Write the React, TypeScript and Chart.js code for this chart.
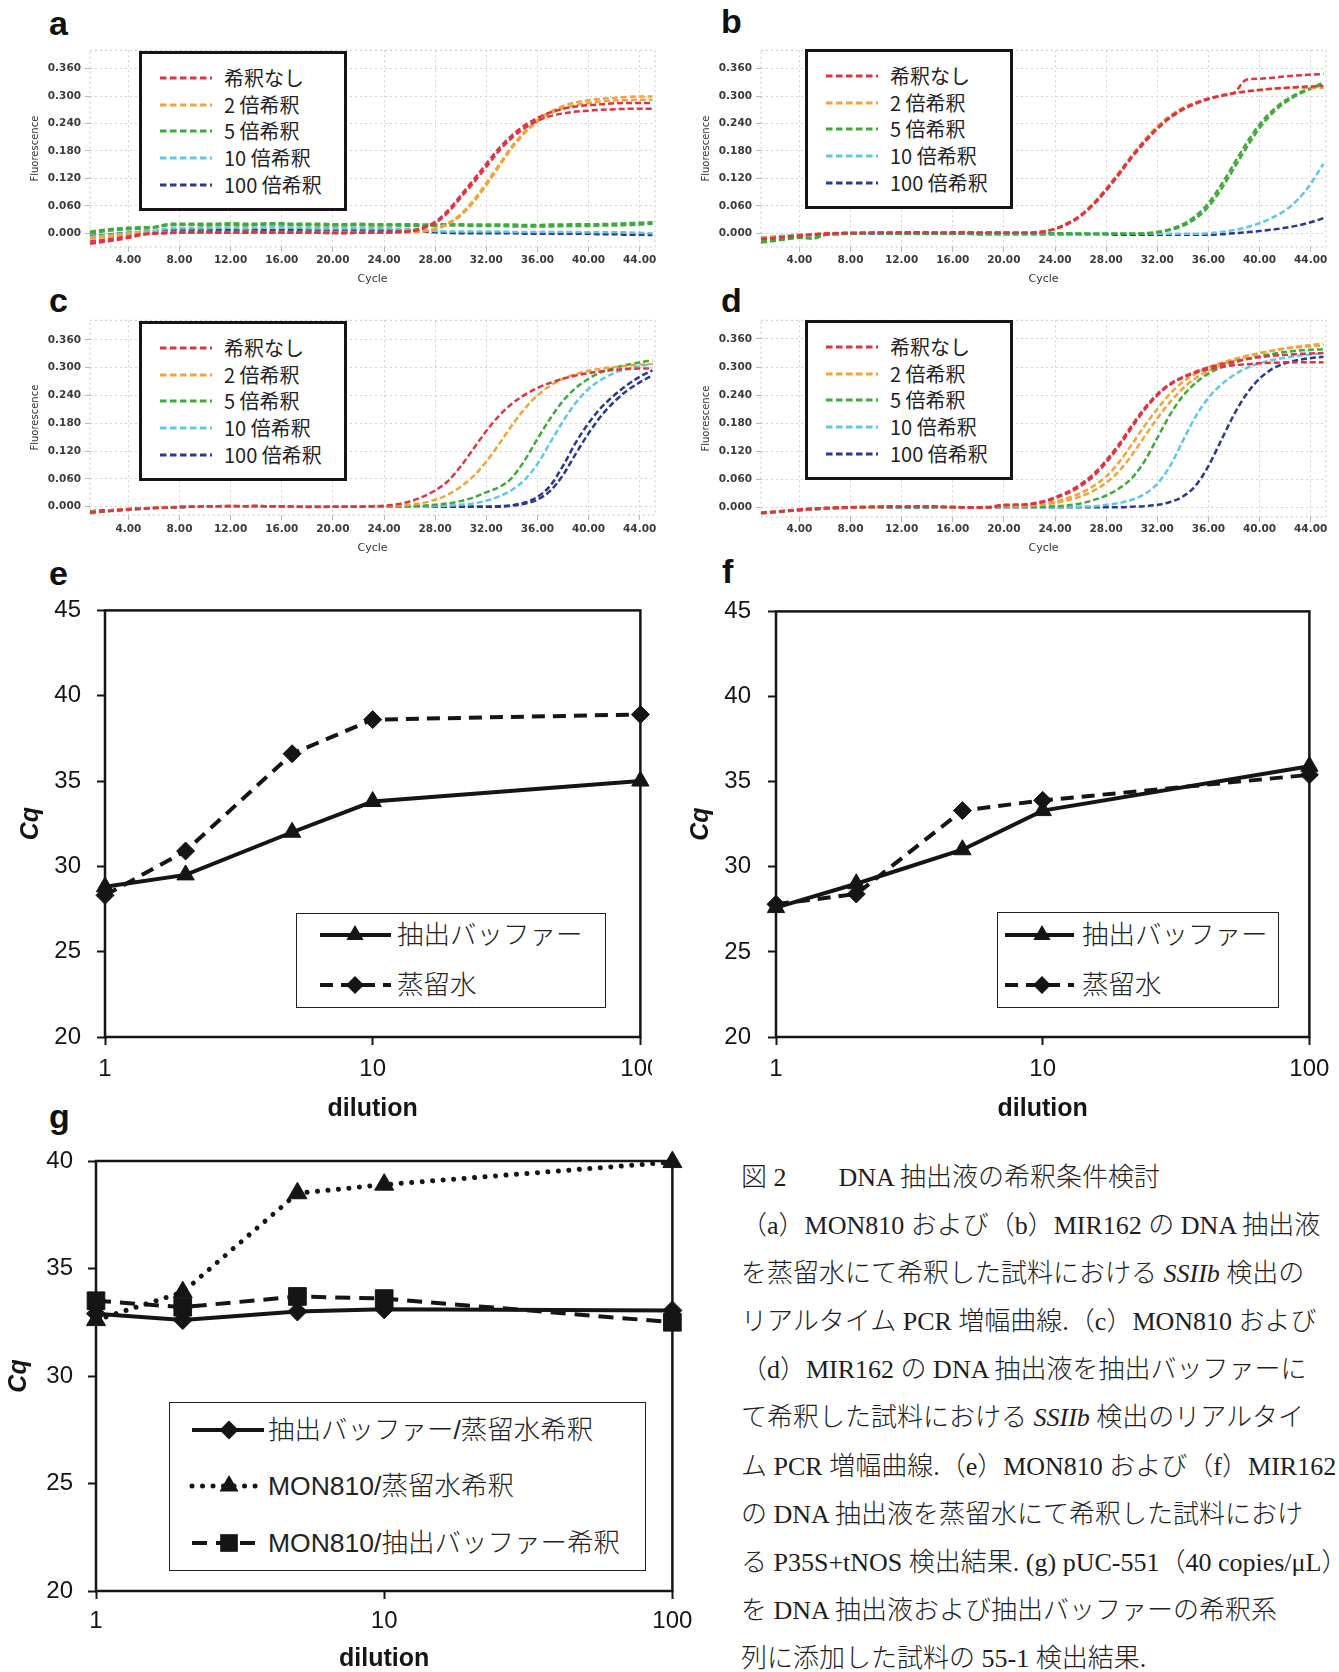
import React, { useEffect, useRef } from "react";
import { Chart, registerables } from "chart.js";

Chart.register(...registerables);

// ================= DATA =================
const CYCLES = [
  1, 2, 3, 4, 5, 6, 7, 8, 9, 10, 11, 12, 13, 14, 15, 16, 17, 18, 19, 20, 21, 22, 23,
  24, 25, 26, 27, 28, 29, 30, 31, 32, 33, 34, 35, 36, 37, 38, 39, 40, 41, 42, 43, 44, 45,
];
const AMP_X_TICKS = [4, 8, 12, 16, 20, 24, 28, 32, 36, 40, 44];
const AMP_Y_TICKS = [0, 0.06, 0.12, 0.18, 0.24, 0.3, 0.36];
const DILUTION_NAMES = ["希釈なし", "2 倍希釈", "5 倍希釈", "10 倍希釈", "100 倍希釈"];
const DILUTION_COLORS = ["#dc3545", "#f2a33a", "#3faa3a", "#62c7e2", "#2b388f"];

// panel a (MON810, distilled water)
const A_RED_1 = [
  -0.023, -0.019, -0.015, -0.01, -0.004, -0.001, 0.0, 0.001, 0.001, 0.002,
  0.001, 0.001, 0.002, 0.002, 0.001, 0.001, 0.002, 0.001, 0.001, 0.0,
  0.0, 0.001, 0.001, 0.001, 0.002, 0.004, 0.01, 0.022, 0.045, 0.078,
  0.11, 0.145, 0.18, 0.208, 0.23, 0.246, 0.256, 0.262, 0.266, 0.268,
  0.27, 0.271, 0.272, 0.272, 0.272,
];
const A_RED_2 = [
  -0.018, -0.015, -0.011, -0.007, -0.002, 0.0, 0.001, 0.001, 0.002, 0.002,
  0.002, 0.001, 0.001, 0.002, 0.002, 0.001, 0.001, 0.002, 0.001, 0.001,
  0.001, 0.001, 0.002, 0.002, 0.003, 0.005, 0.012, 0.025, 0.05, 0.083,
  0.117, 0.152, 0.186, 0.214, 0.236, 0.252, 0.264, 0.272, 0.277, 0.28,
  0.282, 0.284, 0.285, 0.285, 0.285,
];
const A_ORANGE_1 = [
  -0.012, -0.009, -0.006, -0.003, 0.0, 0.001, 0.002, 0.002, 0.002, 0.003,
  0.002, 0.002, 0.003, 0.003, 0.002, 0.002, 0.002, 0.003, 0.002, 0.002,
  0.002, 0.002, 0.002, 0.002, 0.002, 0.002, 0.004, 0.01, 0.022, 0.042,
  0.072, 0.11, 0.15, 0.19, 0.222, 0.247, 0.265, 0.278, 0.286, 0.291,
  0.294, 0.296, 0.298, 0.299, 0.299,
];
const A_ORANGE_2 = [
  -0.01, -0.007, -0.004, -0.001, 0.001, 0.002, 0.003, 0.003, 0.003, 0.003,
  0.003, 0.003, 0.003, 0.003, 0.003, 0.003, 0.003, 0.003, 0.003, 0.003,
  0.003, 0.003, 0.003, 0.003, 0.003, 0.003, 0.004, 0.009, 0.02, 0.039,
  0.068, 0.105, 0.146, 0.186, 0.219, 0.244, 0.262, 0.273, 0.28, 0.285,
  0.288, 0.29, 0.291, 0.292, 0.292,
];
const A_GREEN_1 = [
  0.0, 0.004, 0.007, 0.009, 0.01, 0.012, 0.017, 0.018, 0.018, 0.017,
  0.018, 0.018, 0.017, 0.018, 0.019, 0.019, 0.018, 0.018, 0.017, 0.017,
  0.017, 0.018, 0.017, 0.017, 0.017, 0.016, 0.016, 0.016, 0.017, 0.017,
  0.016, 0.016, 0.016, 0.015, 0.015, 0.015, 0.015, 0.016, 0.016, 0.016,
  0.017, 0.017, 0.018, 0.019, 0.021,
];
const A_GREEN_2 = [
  0.004, 0.007, 0.01, 0.012, 0.013, 0.014, 0.02, 0.021, 0.021, 0.021,
  0.021, 0.022, 0.021, 0.021, 0.022, 0.022, 0.021, 0.021, 0.021, 0.02,
  0.02, 0.021, 0.02, 0.02, 0.02, 0.02, 0.019, 0.019, 0.02, 0.02,
  0.019, 0.019, 0.019, 0.019, 0.018, 0.018, 0.019, 0.019, 0.02, 0.02,
  0.02, 0.021, 0.022, 0.023, 0.024,
];
const A_CYAN = [
  -0.008, -0.005, -0.002, 0.001, 0.003, 0.005, 0.01, 0.011, 0.011, 0.011,
  0.012, 0.012, 0.011, 0.012, 0.013, 0.013, 0.012, 0.012, 0.011, 0.011,
  0.011, 0.012, 0.011, 0.011, 0.01, 0.009, 0.007, 0.005, 0.004, 0.004,
  0.004, 0.004, 0.004, 0.003, 0.003, 0.003, 0.003, 0.003, 0.003, 0.002,
  0.002, 0.002, 0.002, 0.001, 0.0,
];
const A_BLUE = [
  -0.006, -0.004, -0.001, 0.001, 0.003, 0.004, 0.006, 0.007, 0.007, 0.007,
  0.007, 0.007, 0.006, 0.007, 0.007, 0.007, 0.007, 0.006, 0.006, 0.006,
  0.006, 0.006, 0.006, 0.006, 0.006, 0.006, 0.004, 0.002, 0.001, 0.0,
  0.0, 0.0, 0.0, 0.0, -0.001, -0.001, -0.001, -0.001, -0.001, -0.001,
  -0.002, -0.002, -0.003, -0.003, -0.004,
];

// panel b (MIR162, distilled water)
const B_RED_1 = [
  -0.012, -0.01, -0.007, -0.005, -0.003, -0.001, 0.0, 0.001, 0.001, 0.001,
  0.001, 0.002, 0.002, 0.001, 0.001, 0.002, 0.002, 0.001, 0.001, 0.001,
  0.001, 0.001, 0.003, 0.009, 0.02, 0.037, 0.062, 0.093, 0.128, 0.165,
  0.198, 0.228, 0.252, 0.27, 0.283, 0.293, 0.3, 0.306, 0.31, 0.313,
  0.316, 0.318, 0.32, 0.321, 0.322,
];
const B_RED_2 = [
  -0.013, -0.011, -0.008, -0.006, -0.003, -0.001, 0.0, 0.0, 0.001, 0.001,
  0.001, 0.001, 0.002, 0.002, 0.001, 0.001, 0.002, 0.001, 0.001, 0.001,
  0.001, 0.001, 0.004, 0.01, 0.022, 0.039, 0.064, 0.096, 0.131, 0.168,
  0.201, 0.23, 0.254, 0.272, 0.285, 0.294, 0.301, 0.307, 0.336, 0.338,
  0.34, 0.343, 0.345, 0.347, 0.348,
];
const B_ORANGE = [
  -0.01, -0.008, -0.006, -0.004, -0.002, 0.0, 0.001, 0.001, 0.001, 0.002,
  0.002, 0.002, 0.002, 0.002, 0.002, 0.002, 0.003, 0.002, 0.002, 0.002,
  0.001, 0.001, 0.003, 0.01, 0.022, 0.04, 0.066, 0.098, 0.133, 0.17,
  0.204, 0.234, 0.257, 0.274, 0.286, 0.295, 0.302, 0.307, 0.311, 0.314,
  0.316, 0.317, 0.318, 0.318, 0.318,
];
const B_GREEN_1 = [
  -0.02, -0.017, -0.013, -0.01, -0.012, -0.004, -0.001, 0.0, 0.0, 0.0,
  0.0, 0.0, 0.0, 0.0, 0.0, 0.0, 0.0, 0.0, 0.0, 0.0,
  0.0, 0.0, 0.0, 0.0, -0.001, -0.001, -0.001, -0.001, -0.001, -0.001,
  0.0, 0.003, 0.009, 0.02, 0.038, 0.066, 0.106, 0.152, 0.198, 0.238,
  0.268, 0.29, 0.306, 0.317, 0.325,
];
const B_GREEN_2 = [
  -0.018, -0.015, -0.012, -0.009, -0.01, -0.003, 0.0, 0.0, 0.0, 0.001,
  0.0, 0.0, 0.001, 0.0, 0.0, 0.0, 0.0, 0.0, 0.0, 0.0,
  0.0, 0.0, 0.0, 0.0, 0.0, -0.001, -0.001, -0.001, -0.001, -0.001,
  -0.001, 0.002, 0.007, 0.016, 0.032, 0.058, 0.096, 0.142, 0.188, 0.23,
  0.262, 0.286, 0.303, 0.316, 0.33,
];
const B_CYAN = [
  -0.01, -0.007, -0.005, -0.003, -0.002, -0.001, -0.001, 0.0, 0.0, 0.0,
  0.0, 0.0, 0.0, 0.0, 0.0, 0.0, 0.0, 0.0, -0.001, -0.001,
  -0.001, -0.001, -0.001, -0.001, -0.001, -0.001, -0.001, -0.001, -0.001, -0.001,
  -0.001, -0.001, -0.001, -0.001, -0.001, 0.0, 0.003, 0.007, 0.013, 0.022,
  0.034, 0.05, 0.074, 0.108, 0.152,
];
const B_BLUE = [
  -0.01, -0.008, -0.006, -0.004, -0.003, -0.002, -0.002, -0.001, -0.001, -0.001,
  -0.001, -0.001, -0.001, -0.001, -0.001, -0.001, -0.001, -0.002, -0.002, -0.002,
  -0.002, -0.002, -0.002, -0.002, -0.002, -0.002, -0.002, -0.002, -0.003, -0.003,
  -0.003, -0.003, -0.003, -0.003, -0.003, -0.003, -0.002, 0.0, 0.002, 0.005,
  0.008, 0.012, 0.017, 0.024, 0.033,
];

// panel c (MON810, extraction buffer)
const C_RED = [
  -0.012, -0.01, -0.008, -0.006, -0.004, -0.003, -0.002, -0.001, 0.0, 0.001,
  0.001, 0.002, 0.001, 0.002, 0.001, 0.001, 0.0, -0.001, -0.001, 0.0,
  0.0, 0.0, 0.001, 0.002, 0.005, 0.011, 0.021, 0.035, 0.055, 0.087,
  0.125, 0.163, 0.196, 0.222, 0.241, 0.256, 0.267, 0.276, 0.283, 0.288,
  0.292, 0.295, 0.297, 0.298, 0.299,
];
const C_ORANGE = [
  -0.011, -0.009, -0.007, -0.005, -0.004, -0.002, -0.001, 0.0, 0.0, 0.001,
  0.001, 0.001, 0.001, 0.001, 0.001, 0.001, 0.0, 0.0, 0.0, 0.0,
  0.0, 0.0, 0.001, 0.001, 0.002, 0.004, 0.008, 0.015, 0.026, 0.043,
  0.066, 0.097, 0.135, 0.175, 0.211, 0.24, 0.261, 0.276, 0.286, 0.293,
  0.298, 0.301, 0.304, 0.306, 0.308,
];
const C_GREEN = [
  -0.014, -0.011, -0.009, -0.007, -0.005, -0.003, -0.002, -0.001, 0.0, 0.0,
  0.001, 0.001, 0.001, 0.0, 0.0, 0.0, 0.0, 0.0, 0.0, 0.0,
  0.0, 0.0, 0.0, 0.0, 0.0, 0.001, 0.002, 0.004, 0.007, 0.012,
  0.02, 0.031, 0.042, 0.062, 0.1, 0.146, 0.19, 0.228, 0.256, 0.276,
  0.29, 0.299, 0.306, 0.311, 0.316,
];
const C_CYAN = [
  -0.012, -0.01, -0.008, -0.006, -0.004, -0.003, -0.002, -0.001, 0.0, 0.0,
  0.0, 0.001, 0.0, 0.0, 0.0, 0.0, 0.0, 0.0, 0.0, 0.0,
  0.0, 0.0, 0.0, 0.0, 0.0, 0.0, 0.0, 0.001, 0.002, 0.004,
  0.007, 0.013, 0.022, 0.036, 0.058, 0.092, 0.138, 0.184, 0.224, 0.254,
  0.274, 0.288, 0.297, 0.303, 0.308,
];
const C_BLUE_1 = [
  -0.01, -0.008, -0.007, -0.005, -0.004, -0.003, -0.002, -0.001, 0.0, 0.0,
  0.0, 0.0, 0.0, 0.0, 0.0, 0.0, 0.0, 0.0, 0.0, 0.0,
  0.0, 0.0, 0.0, 0.0, 0.0, 0.0, 0.0, 0.0, 0.0, 0.0,
  0.0, 0.0, 0.001, 0.003, 0.009, 0.021, 0.045, 0.088, 0.138, 0.18,
  0.214, 0.24, 0.262, 0.28, 0.294,
];
const C_BLUE_2 = [
  -0.011, -0.009, -0.007, -0.006, -0.004, -0.003, -0.002, -0.001, 0.0, 0.0,
  0.0, 0.0, 0.0, 0.0, 0.0, 0.0, 0.0, 0.0, 0.0, 0.0,
  0.0, 0.0, 0.0, 0.0, 0.0, 0.0, 0.0, 0.0, 0.0, 0.0,
  0.0, 0.0, 0.0, 0.002, 0.006, 0.015, 0.034, 0.068, 0.114, 0.158,
  0.196, 0.226, 0.25, 0.268, 0.283,
];

// panel d (MIR162, extraction buffer)
const D_RED_1 = [
  -0.012, -0.01, -0.008, -0.005, -0.003, -0.002, -0.001, 0.0, 0.001, 0.001,
  0.002, 0.001, 0.001, 0.002, 0.001, 0.0, 0.0, -0.001, 0.0, 0.004,
  0.005, 0.006, 0.011, 0.019, 0.03, 0.045, 0.066, 0.095, 0.13, 0.17,
  0.208, 0.239, 0.262, 0.277, 0.288, 0.295, 0.3, 0.304, 0.306, 0.308,
  0.309, 0.31, 0.31, 0.31, 0.31,
];
const D_RED_2 = [
  -0.013, -0.011, -0.008, -0.006, -0.004, -0.002, -0.001, 0.0, 0.0, 0.001,
  0.001, 0.001, 0.002, 0.001, 0.001, 0.001, 0.0, 0.0, 0.001, 0.005,
  0.005, 0.007, 0.012, 0.021, 0.033, 0.049, 0.071, 0.1, 0.135, 0.175,
  0.212, 0.242, 0.264, 0.279, 0.29, 0.299, 0.306, 0.312, 0.317, 0.321,
  0.324, 0.326, 0.328, 0.329, 0.33,
];
const D_ORANGE_1 = [
  -0.011, -0.009, -0.007, -0.005, -0.003, -0.002, -0.001, 0.0, 0.0, 0.001,
  0.001, 0.001, 0.001, 0.001, 0.001, 0.0, 0.0, 0.0, 0.0, 0.003,
  0.003, 0.004, 0.007, 0.012, 0.02, 0.03, 0.045, 0.066, 0.096, 0.134,
  0.174, 0.21, 0.243, 0.268, 0.286, 0.299, 0.309, 0.317, 0.324, 0.33,
  0.335, 0.339, 0.342, 0.344, 0.346,
];
const D_ORANGE_2 = [
  -0.012, -0.01, -0.008, -0.006, -0.004, -0.002, -0.001, 0.0, 0.0, 0.0,
  0.001, 0.001, 0.001, 0.001, 0.0, 0.0, 0.0, 0.0, 0.0, 0.002,
  0.002, 0.003, 0.005, 0.009, 0.015, 0.023, 0.035, 0.052, 0.077, 0.111,
  0.151, 0.19, 0.225, 0.254, 0.276, 0.292, 0.304, 0.314, 0.322, 0.329,
  0.335, 0.34, 0.344, 0.347, 0.35,
];
const D_GREEN = [
  -0.013, -0.011, -0.009, -0.007, -0.005, -0.003, -0.002, -0.001, 0.0, 0.0,
  0.0, 0.0, 0.0, 0.0, 0.0, 0.0, 0.0, 0.0, 0.0, 0.001,
  0.001, 0.001, 0.001, 0.002, 0.004, 0.008, 0.015, 0.025, 0.04, 0.062,
  0.098, 0.148, 0.198, 0.238, 0.266, 0.286, 0.299, 0.309, 0.317, 0.323,
  0.328, 0.332, 0.335, 0.337, 0.338,
];
const D_CYAN = [
  -0.012, -0.01, -0.008, -0.006, -0.004, -0.003, -0.002, -0.001, 0.0, 0.0,
  0.0, 0.0, 0.0, 0.0, 0.0, 0.0, 0.0, 0.0, 0.0, 0.0,
  0.0, 0.0, 0.0, 0.0, 0.0, 0.001, 0.002, 0.005, 0.009, 0.016,
  0.028, 0.05, 0.088, 0.142, 0.194, 0.234, 0.262, 0.283, 0.298, 0.308,
  0.315, 0.32, 0.324, 0.327, 0.329,
];
const D_BLUE = [
  -0.012, -0.01, -0.008, -0.006, -0.005, -0.003, -0.002, -0.001, 0.0, 0.0,
  0.0, 0.0, 0.0, 0.0, 0.0, 0.0, 0.0, 0.0, 0.0, 0.0,
  0.0, 0.0, 0.0, 0.0, 0.0, 0.0, 0.0, 0.0, 0.0, 0.001,
  0.002, 0.005, 0.011, 0.023, 0.046, 0.088, 0.143, 0.198, 0.243, 0.275,
  0.296, 0.308, 0.315, 0.319, 0.322,
];

// Cq panels
const DILUTIONS = [1, 2, 5, 10, 100];
const CQ_X_TICKS = [1, 10, 100];
const CQ_Y_TICKS_EF = [20, 25, 30, 35, 40, 45];
const CQ_Y_TICKS_G = [20, 25, 30, 35, 40];
const E_BUFFER = [28.8, 29.5, 32.0, 33.8, 35.0];
const E_WATER = [28.3, 30.9, 36.6, 38.6, 38.9];
const F_BUFFER = [27.6, 29.0, 31.0, 33.3, 35.9];
const F_WATER = [27.8, 28.4, 33.3, 33.9, 35.4];
const G_BUFFER_WATER = [32.9, 32.6, 33.0, 33.1, 33.05];
const G_MON_WATER = [32.6, 33.9, 38.5, 38.9, 39.95];
const G_MON_BUFFER = [33.5, 33.2, 33.7, 33.6, 32.5];
const LEGEND_EF = ["抽出バッファー", "蒸留水"];
const LEGEND_G = ["抽出バッファー/蒸留水希釈", "MON810/蒸留水希釈", "MON810/抽出バッファー希釈"];

// ================= HELPERS =================
const INK = "#151515";

const PANEL_A = [
  { dil: 0, values: A_RED_1 }, { dil: 0, values: A_RED_2 },
  { dil: 1, values: A_ORANGE_1 }, { dil: 1, values: A_ORANGE_2 },
  { dil: 2, values: A_GREEN_1 }, { dil: 2, values: A_GREEN_2 },
  { dil: 3, values: A_CYAN }, { dil: 4, values: A_BLUE },
];
const PANEL_B = [
  { dil: 0, values: B_RED_1 }, { dil: 0, values: B_RED_2 },
  { dil: 1, values: B_ORANGE },
  { dil: 2, values: B_GREEN_1 }, { dil: 2, values: B_GREEN_2 },
  { dil: 3, values: B_CYAN }, { dil: 4, values: B_BLUE },
];
const PANEL_C = [
  { dil: 0, values: C_RED }, { dil: 1, values: C_ORANGE },
  { dil: 2, values: C_GREEN }, { dil: 3, values: C_CYAN },
  { dil: 4, values: C_BLUE_1 }, { dil: 4, values: C_BLUE_2 },
];
const PANEL_D = [
  { dil: 0, values: D_RED_1 }, { dil: 0, values: D_RED_2 },
  { dil: 1, values: D_ORANGE_1 }, { dil: 1, values: D_ORANGE_2 },
  { dil: 2, values: D_GREEN }, { dil: 3, values: D_CYAN }, { dil: 4, values: D_BLUE },
];

function framePlugin(color: string, width: number, dash: number[]) {
  return {
    id: "frame",
    beforeDatasetsDraw(chart: any) {
      const { ctx, chartArea } = chart;
      ctx.save();
      ctx.strokeStyle = color;
      ctx.lineWidth = width;
      ctx.setLineDash(dash);
      ctx.strokeRect(chartArea.left, chartArea.top, chartArea.right - chartArea.left, chartArea.bottom - chartArea.top);
      ctx.restore();
    },
  };
}

function AmpChart(p: any) {
  const ref = useRef<HTMLCanvasElement>(null);
  useEffect(() => {
    const font = { family: '"DejaVu Sans", Verdana, sans-serif', size: 10.5, weight: "bold" };
    const titleFont = { family: '"DejaVu Sans", Verdana, sans-serif', size: 11 };
    const grid = { color: "#d2d2d2", lineWidth: 1, drawTicks: true, tickLength: 5, tickColor: "#b8b8b8" };
    const border = { display: false, dash: [2, 3] };
    const chart = new Chart(ref.current as any, {
      type: "line",
      data: {
        datasets: p.curves.map((c: any) => ({
          data: CYCLES.map((cy, i) => ({ x: cy, y: c.values[i] })),
          borderColor: DILUTION_COLORS[c.dil],
          borderWidth: 2.5,
          borderDash: [6, 3],
          pointRadius: 0,
          fill: false,
          cubicInterpolationMode: "monotone",
        })),
      },
      options: {
        responsive: false,
        animation: false,
        events: [],
        layout: { autoPadding: false, padding: { left: 0, top: p.padT, right: p.padR, bottom: 0 } },
        plugins: { legend: { display: false }, tooltip: { enabled: false } },
        scales: {
          x: {
            type: "linear",
            min: 1,
            max: 45.2,
            afterBuildTicks: (s: any) => { s.ticks = AMP_X_TICKS.map((v) => ({ value: v })); },
            afterFit: (s: any) => { s.height = p.xH; },
            ticks: { font, color: "#3a3a3a", padding: p.xTickPad - 5, maxRotation: 0, autoSkip: false, callback: (v: any) => Number(v).toFixed(2) },
            grid,
            border,
            title: { display: true, text: "Cycle", font: titleFont, color: "#333", padding: { top: 0, bottom: p.xTitlePad } },
          },
          y: {
            type: "linear",
            min: p.yMin,
            max: p.yMax,
            afterBuildTicks: (s: any) => { s.ticks = AMP_Y_TICKS.map((v) => ({ value: v })); },
            afterFit: (s: any) => { s.width = p.yW; },
            ticks: { font, color: "#3a3a3a", padding: 4, callback: (v: any) => Number(v).toFixed(3) },
            grid,
            border,
            title: { display: true, text: "Fluorescence", font: { ...titleFont, size: 10 }, color: "#333", padding: { top: p.yTitlePad, bottom: 0 } },
          },
        },
      },
      plugins: [framePlugin("#c4c4c4", 1, [2, 3])],
    } as any);
    return () => chart.destroy();
  }, []);
  return (
    <canvas ref={ref} width={p.w} height={p.h}
      style={{ position: "absolute", left: p.x, top: p.y, width: p.w, height: p.h }} />
  );
}

function AmpLegend({ x, y }: any) {
  return (
    <div style={{ position: "absolute", left: x, top: y, width: 208, height: 160, boxSizing: "border-box", border: "3px solid #151515", background: "#fff" }}>
      {DILUTION_NAMES.map((name, i) => (
        <div key={i} style={{ position: "absolute", left: 18, top: 24 + i * 26.7 - 13, height: 26, display: "flex", alignItems: "center", whiteSpace: "nowrap" }}>
          <svg width={52} height={6} style={{ display: "block" }}>
            <line x1={0} y1={3} x2={52} y2={3} stroke={DILUTION_COLORS[i]} strokeWidth={3} strokeDasharray="6.5 3.5" />
          </svg>
          <span style={{ marginLeft: 12, fontFamily: '"Noto Sans CJK JP", sans-serif', fontSize: 20, lineHeight: "26px", color: "#222" }}>{name}</span>
        </div>
      ))}
    </div>
  );
}

function CqChart(p: any) {
  const ref = useRef<HTMLCanvasElement>(null);
  useEffect(() => {
    const tickFont = { family: '"Liberation Sans", Arial, sans-serif', size: 24 };
    const titleFont = { family: '"Liberation Sans", Arial, sans-serif', size: 25, weight: "bold", lineHeight: p.titleLH };
    const grid = { drawOnChartArea: false, drawTicks: true, tickLength: 8, tickColor: INK, tickWidth: 2 };
    const chart = new Chart(ref.current as any, {
      type: "line",
      data: {
        datasets: p.series.map((s: any) => ({
          data: DILUTIONS.map((d, i) => ({ x: d, y: s.values[i] })),
          borderColor: INK,
          backgroundColor: INK,
          pointBackgroundColor: INK,
          pointBorderColor: INK,
          pointBorderWidth: 1,
          borderWidth: s.width,
          borderDash: s.dash,
          borderCapStyle: s.cap || "butt",
          pointStyle: s.marker,
          pointRadius: s.r,
          tension: 0,
          fill: false,
          clip: false,
        })),
      },
      options: {
        responsive: false,
        animation: false,
        events: [],
        layout: { autoPadding: false, padding: { left: 0, top: p.padT, right: p.padR, bottom: 0 } },
        plugins: { legend: { display: false }, tooltip: { enabled: false } },
        scales: {
          x: {
            type: "logarithmic",
            min: 1,
            max: 100,
            afterBuildTicks: (s: any) => { s.ticks = CQ_X_TICKS.map((v) => ({ value: v })); },
            afterFit: (s: any) => { s.height = p.xH; },
            ticks: { font: tickFont, color: INK, padding: p.xTickPad, maxRotation: 0, autoSkip: false, callback: (v: any) => String(v) },
            grid,
            border: { display: false },
            title: { display: true, text: "dilution", font: titleFont, color: INK, padding: { top: 0, bottom: p.xTitlePad } },
          },
          y: {
            type: "linear",
            min: p.yMin,
            max: p.yMax,
            afterBuildTicks: (s: any) => { s.ticks = p.yTicks.map((v: number) => ({ value: v })); },
            afterFit: (s: any) => { s.width = p.yW; },
            ticks: { font: tickFont, color: INK, padding: p.yTickPad, callback: (v: any) => String(v) },
            grid,
            border: { display: false },
            title: { display: true, text: "Cq", font: { ...titleFont, style: "italic" }, color: INK, padding: { top: p.yTitlePad, bottom: 0 } },
          },
        },
      },
      plugins: [framePlugin(INK, 2.5, [])],
    } as any);
    return () => chart.destroy();
  }, []);
  return (
    <div style={{ position: "absolute", left: p.x, top: p.y, width: p.clipW || p.w, height: p.h, overflow: "hidden" }}>
      <canvas ref={ref} width={p.w} height={p.h} style={{ position: "absolute", left: 0, top: 0, width: p.w, height: p.h }} />
    </div>
  );
}

function Marker({ kind, cx, cy, r }: any) {
  if (kind === "triangle") {
    const pts = [
      [cx, cy - r],
      [cx + r * 0.866, cy + r * 0.5],
      [cx - r * 0.866, cy + r * 0.5],
    ];
    return <polygon points={pts.map((q) => q.join(",")).join(" ")} fill={INK} />;
  }
  if (kind === "rectRot") {
    const pts = [[cx, cy - r], [cx + r, cy], [cx, cy + r], [cx - r, cy]];
    return <polygon points={pts.map((q) => q.join(",")).join(" ")} fill={INK} />;
  }
  const s = r * 1.414;
  return <rect x={cx - s / 2} y={cy - s / 2} width={s} height={s} fill={INK} />;
}

function CqLegend({ x, y, w, h, items, rowYs, lx0, lx1, mx, tx }: any) {
  return (
    <div style={{ position: "absolute", left: x, top: y, width: w, height: h, boxSizing: "border-box", border: "1.5px solid #222", background: "#fff" }}>
      {items.map((it: any, i: number) => (
        <div key={i} style={{ position: "absolute", left: 0, top: rowYs[i] - 16, height: 32, width: w - 3 }}>
          <svg width={tx} height={32} style={{ position: "absolute", left: 0, top: 0 }}>
            <line x1={lx0} y1={16} x2={lx1} y2={16} stroke={INK} strokeWidth={it.width}
              strokeDasharray={it.svgDash} strokeLinecap={it.cap || "butt"} />
            <Marker kind={it.marker} cx={mx} cy={16} r={it.r} />
          </svg>
          <span style={{ position: "absolute", left: tx, top: 0, lineHeight: "32px", whiteSpace: "nowrap", fontFamily: '"Liberation Sans", "Noto Sans CJK JP", sans-serif', fontSize: 26.5, color: "#222", fontWeight: 300 }}>
            {it.label}
          </span>
        </div>
      ))}
    </div>
  );
}

function PanelLabel({ text, x, y }: any) {
  return (
    <div style={{ position: "absolute", left: x, top: y, fontFamily: '"Liberation Sans", Arial, sans-serif', fontWeight: "bold", fontSize: 34, lineHeight: "34px", color: "#111" }}>
      {text}
    </div>
  );
}

// line styles for Cq panels
const STYLE_SOLID_TRI = { width: 4, dash: [], marker: "triangle", r: 10, svgDash: undefined };
const STYLE_DASH_DIA = { width: 4, dash: [13, 8], marker: "rectRot", r: 9, svgDash: "13 8" };
const STYLE_G_SOLID_DIA = { width: 4, dash: [], marker: "rectRot", r: 9.5, svgDash: undefined };
const STYLE_G_DOT_TRI = { width: 5, dash: [0.01, 10.5], cap: "round", marker: "triangle", r: 11, svgDash: "0.01 10.5" };
const STYLE_G_DASH_SQ = { width: 4, dash: [15, 9], marker: "rect", r: 12.5, svgDash: "15 9" };

export default function App() {
  const capStyle: any = { height: 48.1, lineHeight: "48.1px", whiteSpace: "pre" };
  return (
    <div style={{ position: "absolute", left: 0, top: 0, width: 1339, height: 1672, background: "#fff", overflow: "hidden" }}>
      <PanelLabel text="a" x={49} y={6} />
      <PanelLabel text="b" x={721} y={4} />
      <PanelLabel text="c" x={49} y={283} />
      <PanelLabel text="d" x={721} y={283} />
      <PanelLabel text="e" x={49} y={556} />
      <PanelLabel text="f" x={722} y={554} />
      <PanelLabel text="g" x={49} y={1099} />

      <AmpChart x={0} y={40} w={670} h={250} curves={PANEL_A} yMin={-0.03} yMax={0.4}
        padT={9} padR={15} yW={90} xH={43} xTickPad={7.4} xTitlePad={4.4} yTitlePad={29} />
      <AmpLegend x={139} y={51} />
      <AmpChart x={670} y={40} w={669} h={250} curves={PANEL_B} yMin={-0.03} yMax={0.4}
        padT={9} padR={13} yW={91} xH={43} xTickPad={7.4} xTitlePad={4.4} yTitlePad={30} />
      <AmpLegend x={805} y={49} />
      <AmpChart x={0} y={310} w={670} h={250} curves={PANEL_C} yMin={-0.018} yMax={0.402}
        padT={8} padR={15} yW={90} xH={45} xTickPad={8.4} xTitlePad={5.4} yTitlePad={29} />
      <AmpLegend x={139} y={321} />
      <AmpChart x={670} y={310} w={669} h={250} curves={PANEL_D} yMin={-0.021} yMax={0.4}
        padT={8} padR={13} yW={91} xH={43} xTickPad={6.4} xTitlePad={5.4} yTitlePad={30} />
      <AmpLegend x={805} y={320} />

      <CqChart x={0} y={580} w={670} h={550} clipW={652}
        series={[{ values: E_BUFFER, ...STYLE_SOLID_TRI }, { values: E_WATER, ...STYLE_DASH_DIA }]}
        yMin={20} yMax={45} yTicks={CQ_Y_TICKS_EF}
        padT={30} padR={27} yW={105} xH={93} xTickPad={9.6} yTickPad={16} xTitlePad={6} yTitlePad={16} titleLH={1.2} />
      <CqLegend x={296} y={913} w={310} h={95}
        items={[{ label: LEGEND_EF[0], ...STYLE_SOLID_TRI }, { label: LEGEND_EF[1], ...STYLE_DASH_DIA }]}
        rowYs={[21, 71]} lx0={23} lx1={94} mx={58} tx={100} />

      <CqChart x={670} y={580} w={669} h={550}
        series={[{ values: F_BUFFER, ...STYLE_SOLID_TRI }, { values: F_WATER, ...STYLE_DASH_DIA }]}
        yMin={20} yMax={45} yTicks={CQ_Y_TICKS_EF}
        padT={30} padR={26} yW={106} xH={93} xTickPad={9.6} yTickPad={17} xTitlePad={6} yTitlePad={16} titleLH={1.2} />
      <CqLegend x={997} y={912} w={282} h={96}
        items={[{ label: LEGEND_EF[0], ...STYLE_SOLID_TRI }, { label: LEGEND_EF[1], ...STYLE_DASH_DIA }]}
        rowYs={[22, 72]} lx0={7} lx1={76} mx={44} tx={84} />

      <CqChart x={0} y={1130} w={700} h={542}
        series={[
          { values: G_BUFFER_WATER, ...STYLE_G_SOLID_DIA },
          { values: G_MON_WATER, ...STYLE_G_DOT_TRI },
          { values: G_MON_BUFFER, ...STYLE_G_DASH_SQ },
        ]}
        yMin={20} yMax={40} yTicks={CQ_Y_TICKS_G}
        padT={31} padR={22} yW={96} xH={81} xTickPad={7.6} yTickPad={15} xTitlePad={0} yTitlePad={7} titleLH={1} />
      <CqLegend x={169} y={1402} w={477} h={169}
        items={[
          { label: LEGEND_G[0], ...STYLE_G_SOLID_DIA },
          { label: LEGEND_G[1], ...STYLE_G_DOT_TRI },
          { label: LEGEND_G[2], ...STYLE_G_DASH_SQ },
        ]}
        rowYs={[27, 83, 140]} lx0={22} lx1={94} mx={59} tx={98} />

      <div style={{ position: "absolute", left: 741, top: 1154, width: 598, overflow: "hidden", fontFamily: '"Liberation Serif", "Noto Sans CJK JP", serif', fontSize: 26, fontWeight: 300, color: "#1e1e1e" }}>
        <div style={capStyle}>図 2　　DNA 抽出液の希釈条件検討</div>
        <div style={capStyle}>（a）MON810 および（b）MIR162 の DNA 抽出液</div>
        <div style={capStyle}>を蒸留水にて希釈した試料における <i>SSIIb</i> 検出の</div>
        <div style={capStyle}>リアルタイム PCR 増幅曲線.（c）MON810 および</div>
        <div style={capStyle}>（d）MIR162 の DNA 抽出液を抽出バッファーに</div>
        <div style={capStyle}>て希釈した試料における <i>SSIIb</i> 検出のリアルタイ</div>
        <div style={capStyle}>ム PCR 増幅曲線.（e）MON810 および（f）MIR162</div>
        <div style={capStyle}>の DNA 抽出液を蒸留水にて希釈した試料におけ</div>
        <div style={capStyle}>る P35S+tNOS 検出結果. (g) pUC-551（40 copies/μL）</div>
        <div style={capStyle}>を DNA 抽出液および抽出バッファーの希釈系</div>
        <div style={capStyle}>列に添加した試料の 55-1 検出結果.</div>
      </div>
    </div>
  );
}
